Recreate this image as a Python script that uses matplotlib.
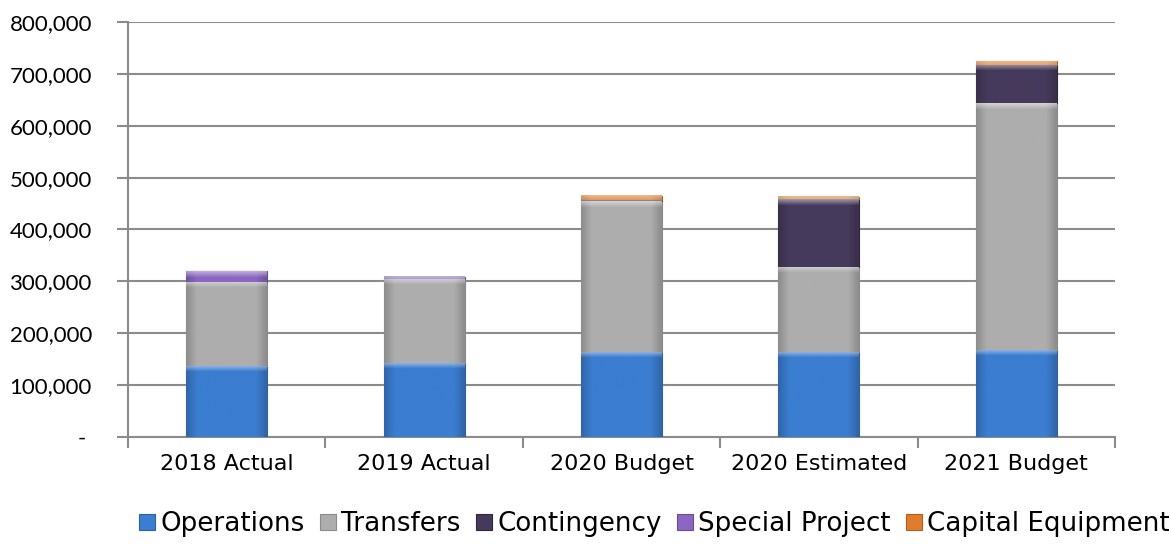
import numpy as np
import matplotlib.pyplot as plt
from matplotlib.colors import to_rgb
from matplotlib.ticker import FuncFormatter, MultipleLocator

categories = ["2018 Actual", "2019 Actual", "2020 Budget", "2020 Estimated", "2021 Budget"]
operations = [137000, 143000, 164000, 164000, 168000]
transfers = [162000, 162000, 290000, 164000, 475000]
contingency = [0, 0, 3000, 131000, 75000]
special_project = [21000, 4000, 0, 0, 0]
capital_equipment = [0, 0, 8000, 4000, 6000]

series = [
    ("Operations", operations, "#3b7dd0", "#2f62a3"),
    ("Transfers", transfers, "#adadad", "#8a8a8a"),
    ("Contingency", contingency, "#463a5c", "#2f2740"),
    ("Special Project", special_project, "#8b66c2", "#6a4b98"),
    ("Capital Equipment", capital_equipment, "#e07c2c", "#b35f1c"),
]

fig = plt.figure(figsize=(11.71, 5.5), dpi=100)
ax = fig.add_axes([0.1093, 0.2055, 0.8429, 0.7545])
ax.set_xlim(-0.5, len(categories) - 0.5)
ax.set_ylim(0, 800000)


def bevel(patch, color):
    # soft glassy look: darker sides, light band on top
    x0, y0 = patch.get_x(), patch.get_y()
    w, h = patch.get_width(), patch.get_height()
    if h <= 0:
        return
    hpx = max(2, int(round(h / 800000 * 415)))
    cols = 40
    u = np.linspace(-1, 1, cols)
    side = 1.0 - 0.18 * np.clip((np.abs(u) - 0.75) / 0.25, 0, 1)
    rows = np.arange(hpx)[::-1]  # distance from top in px (row 0 = bottom)
    top = np.clip(1 - rows / 6.0, 0, 1)
    base = np.array(to_rgb(color))
    img = base[None, None, :] * side[None, :, None]
    img = img + (1 - img) * (0.45 * top)[:, None, None]
    ax.imshow(img, extent=(x0, x0 + w, y0, y0 + h), origin="lower",
              aspect="auto", interpolation="bilinear", zorder=3.5,
              clip_path=patch, clip_on=True)


x = np.arange(len(categories))
bottom = np.zeros(len(categories))
handles = []
for name, vals, color, edge in series:
    vals = np.array(vals, dtype=float)
    b = ax.bar(x, vals, width=0.41, bottom=bottom, color=color,
               edgecolor=edge, linewidth=0.8, label=name, zorder=3)
    for patch in b.patches:
        bevel(patch, color)
    handles.append(b)
    bottom += vals

ax.set_xlim(-0.5, len(categories) - 0.5)
ax.set_ylim(0, 800000)
ax.yaxis.set_major_locator(MultipleLocator(100000))
ax.yaxis.set_major_formatter(FuncFormatter(lambda v, p: "- " if v == 0 else f"{v:,.0f}"))
ax.grid(axis="y", color="#8c8c8c", linewidth=1.5, zorder=0)

# category ticks sit on the boundaries between bars
ax.set_xticks(x)
ax.set_xticklabels(categories, fontsize=16, family="DejaVu Sans")
ax.set_xticks(np.arange(-0.5, len(categories)), minor=True)
ax.tick_params(axis="x", which="major", length=0, pad=12)
ax.tick_params(axis="x", which="minor", length=8, width=1.5, color="#8c8c8c")
ax.tick_params(axis="y", length=8, width=1.5, color="#8c8c8c", labelsize=16, pad=18)
for lbl in ax.get_yticklabels():
    lbl.set_family("Lato")

for side in ["top", "right"]:
    ax.spines[side].set_visible(False)
for side in ["left", "bottom"]:
    ax.spines[side].set_color("#8c8c8c")
    ax.spines[side].set_linewidth(1.5)

fig.legend(handles=handles, loc="center", bbox_to_anchor=(0.559, 0.047), ncol=5,
           frameon=False, prop={"family": "DejaVu Sans", "size": 18.8},
           handlelength=0.6, handleheight=0.6, handletextpad=0.2, columnspacing=0.6)

fig.savefig("out.png", dpi=100)
